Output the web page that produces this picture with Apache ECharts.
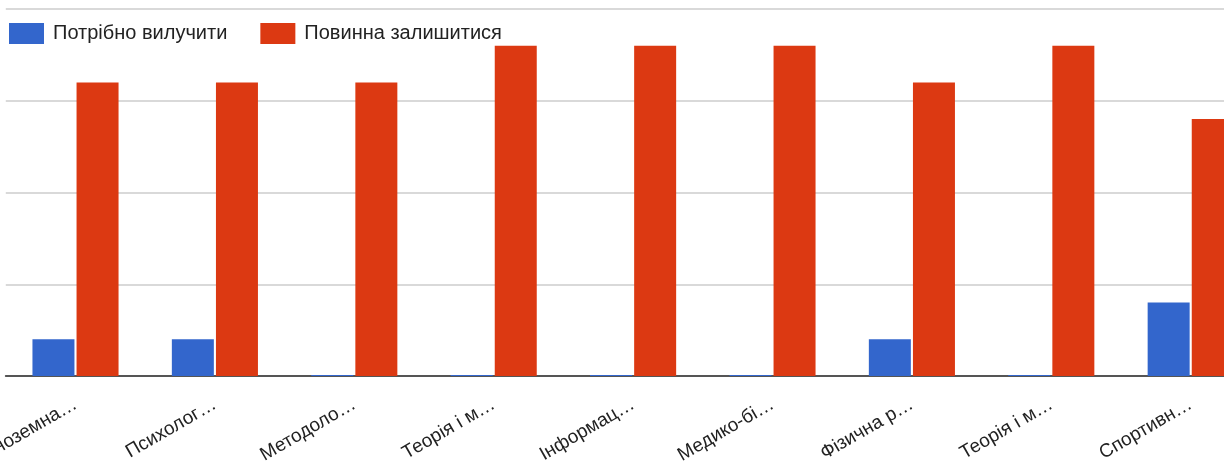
<!DOCTYPE html>
<html>
<head>
<meta charset="utf-8">
<script src="https://cdn.jsdelivr.net/npm/echarts@6/dist/echarts.min.js"></script>
<style>
html,body{margin:0;padding:0;background:#fff;}
#chart{width:1224px;height:466px;}
</style>
</head>
<body>
<div id="chart"></div>
<script>
const categories = ["Іноземна…","Психолог…","Методоло…","Теорія і м…","Інформац…","Медико-бі…","Фізична р…","Теорія і м…","Спортивн…"];
const seriesNames = ["Потрібно вилучити","Повинна залишитися"];
const removeValues = [1,1,0,0,0,0,1,0,2];
const stayValues = [8,8,8,9,9,9,8,9,7];

const chart = echarts.init(document.getElementById('chart'));
chart.setOption({
  animation:false,
  color:['#3366cc','#dc3912'],
  textStyle:{fontFamily:'Liberation Sans, Arial, sans-serif'},
  legend:{
    left:4, top:18, itemWidth:35, itemHeight:21, itemGap:33,
    icon:'rect',
    textStyle:{fontSize:20,color:'#222',padding:[0,0,0,4]},
    data:seriesNames
  },
  grid:{left:5.8, top:9, width:1254.6, height:367, outerBoundsMode:'none', containLabel:false},
  xAxis:{
    type:'category', data:categories,
    axisLine:{lineStyle:{color:'#555',width:2}},
    axisTick:{show:false},
    axisLabel:{rotate:30, fontSize:19, color:'#222', margin:27, interval:0}
  },
  yAxis:{
    type:'value', min:0, max:10, interval:2.5,
    axisLabel:{show:false}, axisLine:{show:false}, axisTick:{show:false},
    splitLine:{lineStyle:{color:'#ccc',width:1.5}}
  },
  series:[
    {name:seriesNames[0], type:'bar', data:removeValues, barWidth:42, barGap:'5%', barMinHeight:1},
    {name:seriesNames[1], type:'bar', data:stayValues, barWidth:42, barGap:'5%'}
  ]
});
</script>
</body>
</html>
